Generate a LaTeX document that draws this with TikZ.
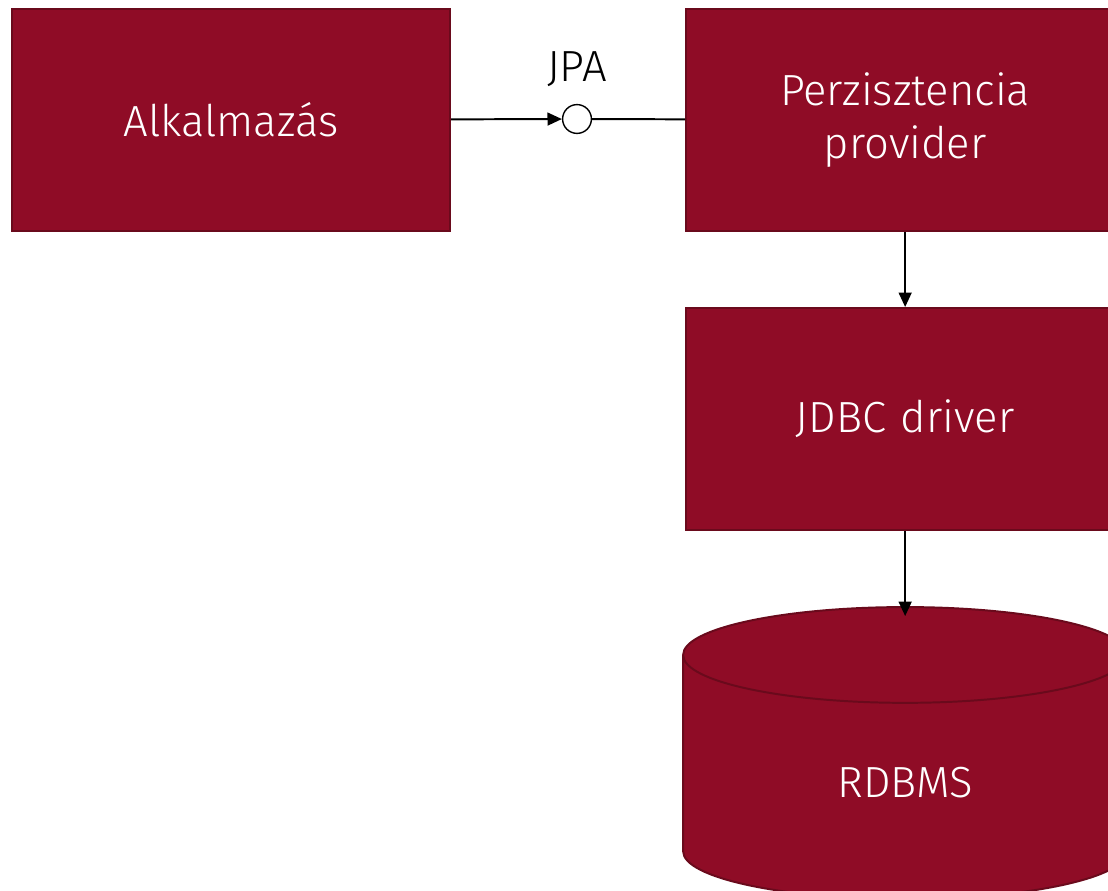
\documentclass[tikz,border=0pt]{standalone}
\usepackage{fontspec}
\setmainfont{Fira Sans}[UprightFont=* Light]
\usetikzlibrary{shapes,arrows,arrows.meta,positioning}
\definecolor{boxred}{HTML}{8F0C26}
\definecolor{edgered}{HTML}{6A0A1C}
\tikzstyle{block} = [rectangle, draw=edgered, fill=boxred, text=white, text width=10cm, align=center, minimum width=10.95cm, minimum height=5.55cm, font=\fontsize{31}{42}\selectfont]
\tikzstyle{storage} = [cylinder, shape border rotate=90, aspect=0.66, draw=edgered, fill=boxred, text=white, minimum width=11.1cm, minimum height=7.3cm, font=\fontsize{31}{41}\selectfont]
\tikzstyle{iface} = [circle, draw, fill=white, line width=1pt, inner sep=0pt, minimum size=0.72cm]
\tikzstyle{tip} = [-{Triangle[length=0.36cm, width=0.32cm]}]

\begin{document}
\begin{tikzpicture}[node distance=1.875cm and 5.85cm, x=0.025cm, y=-0.025cm, line width=1.4pt]
    \useasboundingbox (0,0) rectangle (1108,891);
    \clip (0,0) rectangle (1108,891);
    \node [block] (app) at (231,120) {Alkalmazás};
    \node [block, right=of app] (provider) {\raisebox{-4pt}{Perzisztencia}\\provider};
    \node [block, below=of provider] (driver) {JDBC driver};
    \node [storage, below=of driver] (db) {RDBMS};

    \node [iface] (jpa) at (577,119) {};
    \node [above=0.3cm of jpa, font=\fontsize{31}{41}\selectfont] (jpalabel) {JPA};

     \draw[tip](app) -- (jpa);
     \draw(jpa) -- (provider);
     \draw[tip](provider) -- (driver);
     \draw[tip, shorten >=-0.25cm](driver) -- (db);
\end{tikzpicture}
\end{document}
